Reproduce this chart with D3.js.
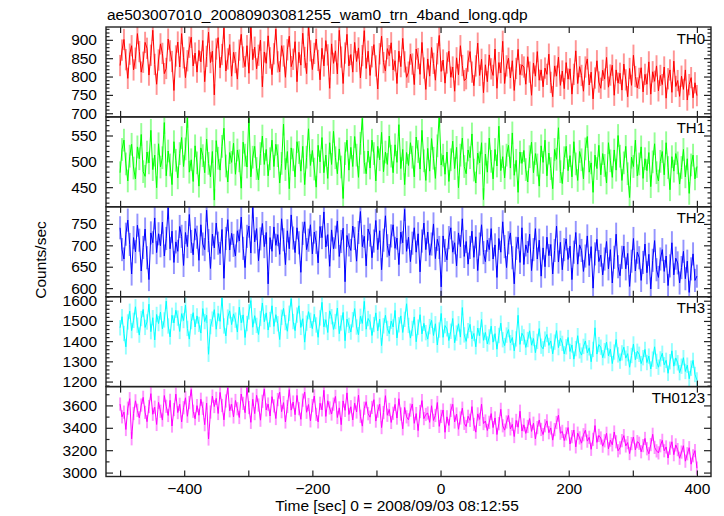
<!DOCTYPE html>
<html><head><meta charset="utf-8">
<script src="https://cdn.jsdelivr.net/npm/d3@7"></script>
<style>html,body{margin:0;padding:0;background:#fff;}svg{display:block;font-family:"Liberation Sans",Arial,Helvetica,sans-serif;}</style>
</head><body><svg id="chart" width="724" height="516"></svg>
<script>
const title = "ae503007010_20080903081255_wam0_trn_4band_long.qdp";
const xLabel = "Time [sec] 0 = 2008/09/03 08:12:55";
const yLabel = "Counts/sec";
const bandNames = ["TH0", "TH1", "TH2", "TH3", "TH0123"];
const bandColors = ["#ff0000", "#00ff00", "#0000ff", "#00ffff", "#ff00ff"];
const xDomain = [-522, 422];
const yDomains = [[690, 935], [412, 586], [580, 790], [1175, 1620], [2965, 3768]];
const yMajorTicks = [[700, 750, 800, 850, 900], [450, 500, 550], [600, 650, 700, 750], [1200, 1300, 1400, 1500, 1600], [3000, 3200, 3400, 3600]];
const yMinorSteps = [10, 10, 10, 20, 100];
const xTicks = [-500, -400, -300, -200, -100, 0, 100, 200, 300, 400];
const xTickLabels = [-400, -200, 0, 200, 400];
const errorBars = [29, 22, 27, 38, 59];
const timeStart = -500, timeStep = 3;

const th0 = [
830,872,901,846,795,861,884,818,850,917,
868,812,839,893,877,804,858,926,833,779,
845,889,863,808,822,902,870,841,762,856,
894,826,917,851,797,843,880,907,829,864,
812,871,840,898,786,855,921,838,869,750,
875,906,824,860,932,815,848,887,801,866,
838,793,872,915,853,827,884,809,940,846,
880,821,858,899,772,867,836,911,851,805,
862,929,840,813,884,856,798,873,910,827,
847,895,786,866,831,918,852,808,940,870,
819,863,902,844,791,877,829,898,859,768,
889,836,870,807,926,853,781,864,915,829,
860,812,893,841,878,796,857,925,822,869,
803,854,887,829,766,862,910,838,815,876,
857,892,818,843,781,869,827,904,840,798,
812,861,834,778,875,849,806,893,823,765,
848,801,879,836,790,862,912,814,845,782,
837,869,798,826,760,851,805,884,830,789,
794,842,868,812,775,829,891,803,847,756,
832,786,859,821,803,875,768,838,810,896,
781,829,850,796,843,762,822,874,805,832,
826,779,854,812,749,837,801,868,790,818,
772,823,806,861,784,745,829,801,853,776,
815,767,838,793,821,752,806,870,781,827,
803,760,826,848,777,812,739,796,843,785,
768,817,793,852,771,804,831,749,818,782,
809,763,834,791,745,822,776,858,800,769,
795,824,758,806,779,840,752,813,787,829,
761,803,778,826,741,794,818,757,842,773,
789,746,801,765,818,736,778,797,742,783,
748];
const th1 = [
478,523,541,495,462,510,533,487,466,528,
505,552,480,471,518,497,560,484,512,449,
534,489,507,575,472,520,493,455,538,502,
468,515,546,490,524,587,479,503,461,530,
497,452,526,511,478,543,496,470,519,425,
540,506,483,529,564,491,460,517,498,535,
475,522,501,448,537,512,489,590,470,508,
529,486,464,515,549,494,523,472,505,541,
490,533,511,458,496,572,484,519,447,526,
503,470,538,517,481,529,455,508,563,492,
521,485,450,531,499,546,478,512,467,536,
494,558,507,476,524,489,428,515,541,483,
527,490,548,512,469,535,583,498,476,520,
487,541,515,462,529,503,556,480,518,494,
549,510,478,532,498,571,486,523,455,517,
492,536,508,470,547,519,485,560,501,463,
525,481,544,506,467,530,589,493,512,475,
518,461,503,539,486,527,449,512,545,490,
476,522,507,553,483,458,516,497,536,426,
514,479,545,500,466,523,491,568,482,509,
468,512,531,487,555,473,502,440,518,496,
521,484,460,509,537,478,515,493,452,530,
498,541,472,516,486,447,523,504,565,480,
457,507,529,482,511,470,538,495,463,519,
503,466,524,548,479,497,440,512,486,531,
474,515,492,458,536,501,469,522,483,550,
510,463,497,529,476,430,508,490,541,472,
495,528,467,505,482,517,451,499,534,478,
462,500,519,474,536,488,445,509,481,515,
497,456,488,523,470,505,438,493,512,466,
490];
const th2 = [
741,690,668,726,759,702,633,718,685,747,
712,640,695,738,671,620,729,706,764,683,
727,699,754,675,716,788,692,733,660,708,
686,744,721,653,730,697,772,709,678,739,
719,665,748,703,690,782,711,646,726,694,
752,705,681,737,623,716,760,689,728,700,
675,734,710,766,693,648,721,745,682,790,
708,739,664,715,751,697,730,610,718,686,
743,700,725,679,762,713,655,734,692,771,
717,683,741,706,637,728,755,690,712,748,
680,731,707,659,744,718,778,696,725,651,
736,692,719,757,674,709,740,615,723,701,
688,745,716,663,730,779,697,721,652,738,
724,671,710,758,690,734,643,712,769,699,
676,722,748,693,717,655,731,706,784,686,
719,662,705,741,684,727,638,710,752,690,
731,677,703,750,669,714,695,603,722,688,
666,718,741,684,706,652,729,697,762,674,
709,656,695,733,672,720,641,703,748,683,
662,712,690,739,668,701,625,716,684,755,
697,648,706,729,671,610,693,719,660,741,
655,701,683,726,641,690,739,668,712,628,
694,650,719,676,702,633,688,745,661,707,
643,690,715,667,698,620,684,730,656,701,
688,639,675,722,653,697,600,680,714,662,
677,631,668,709,645,690,612,672,726,650,
629,672,698,645,681,604,663,716,640,684,
671,618,660,703,636,679,598,665,711,643,
625,668,690,639,675,606,652,706,631,670,
659,612,648,686,622,663,590,645,680,618,
628];
const th3 = [
1466,1521,1438,1372,1495,1548,1452,1503,1570,1479,
1430,1512,1557,1468,1495,1583,1447,1516,1406,1532,
1487,1544,1461,1505,1598,1475,1421,1528,1490,1553,
1514,1448,1536,1502,1579,1463,1410,1497,1541,1470,
1525,1483,1440,1561,1497,1528,1335,1472,1509,1556,
1459,1537,1498,1613,1475,1426,1519,1550,1482,1535,
1504,1445,1568,1491,1530,1418,1487,1545,1601,1469,
1526,1478,1433,1512,1589,1496,1540,1455,1507,1575,
1473,1531,1486,1408,1518,1562,1492,1449,1538,1610,
1497,1452,1529,1575,1468,1511,1395,1489,1546,1503,
1462,1533,1480,1419,1515,1592,1471,1506,1443,1550,
1521,1458,1497,1564,1437,1490,1542,1402,1509,1478,
1445,1506,1561,1470,1432,1523,1488,1597,1459,1512,
1495,1428,1482,1540,1451,1509,1378,1476,1528,1463,
1437,1499,1470,1552,1416,1481,1525,1443,1508,1585,
1478,1415,1463,1520,1397,1469,1531,1436,1488,1442,
1410,1472,1503,1428,1486,1381,1455,1537,1419,1477,
1461,1403,1449,1512,1392,1440,1486,1420,1566,1431,
1399,1452,1483,1411,1438,1372,1465,1427,1507,1404,
1443,1386,1421,1474,1395,1437,1360,1428,1489,1407,
1378,1430,1457,1392,1418,1352,1411,1528,1384,1439,
1421,1369,1408,1451,1380,1413,1343,1399,1462,1375,
1362,1410,1433,1379,1401,1337,1395,1452,1368,1414,
1389,1337,1372,1418,1349,1381,1311,1363,1427,1352,
1331,1374,1401,1342,1367,1298,1359,1466,1336,1383,
1370,1318,1353,1395,1327,1360,1289,1346,1408,1332,
1301,1342,1370,1316,1338,1271,1329,1386,1308,1350,
1335,1289,1318,1359,1294,1326,1262,1311,1372,1300,
1271,1312,1340,1283,1305,1241,1298,1352,1276,1317,
1293,1244,1276,1318,1250,1281,1214,1266,1305,1235,
1208];
const th0123 = [
3612,3498,3540,3385,3575,3660,3302,3528,3641,3556,
3489,3603,3672,3538,3455,3590,3705,3521,3584,3430,
3627,3548,3469,3688,3592,3510,3645,3416,3563,3701,
3536,3610,3452,3579,3668,3503,3625,3742,3548,3481,
3598,3512,3655,3574,3428,3620,3300,3541,3683,3590,
3663,3528,3716,3599,3471,3640,3758,3552,3610,3497,
3644,3570,3492,3702,3618,3535,3760,3581,3449,3655,
3527,3690,3603,3468,3637,3745,3560,3612,3505,3678,
3596,3483,3652,3718,3544,3625,3452,3590,3741,3558,
3630,3517,3689,3571,3476,3647,3720,3539,3608,3462,
3598,3684,3520,3453,3619,3560,3735,3502,3641,3577,
3523,3611,3680,3492,3578,3428,3640,3556,3712,3519,
3588,3470,3620,3541,3692,3503,3415,3575,3633,3526,
3495,3582,3651,3460,3549,3611,3402,3536,3687,3512,
3564,3448,3530,3609,3487,3660,3523,3391,3582,3498,
3471,3558,3612,3440,3527,3375,3545,3643,3482,3519,
3532,3449,3597,3466,3510,3626,3413,3502,3559,3360,
3498,3421,3556,3610,3452,3523,3387,3488,3575,3440,
3412,3503,3467,3589,3430,3361,3524,3475,3612,3438,
3461,3376,3449,3527,3402,3488,3340,3437,3565,3418,
3379,3452,3510,3390,3431,3322,3466,3405,3548,3371,
3426,3350,3412,3483,3368,3441,3301,3402,3470,3385,
3340,3418,3462,3356,3399,3290,3384,3447,3513,3352,
3368,3286,3345,3402,3255,3321,3380,3230,3352,3310,
3263,3338,3379,3281,3315,3208,3297,3420,3270,3332,
3309,3236,3284,3351,3212,3290,3248,3362,3275,3195,
3221,3285,3330,3238,3268,3170,3259,3318,3202,3276,
3262,3186,3241,3305,3213,3168,3250,3342,3225,3194,
3176,3240,3288,3195,3229,3130,3218,3275,3160,3247,
3205,3128,3183,3240,3102,3168,3222,3075,3150,3196,
3040];
const seriesValues = [th0, th1, th2, th3, th0123];

(function () {
const svg = d3.select("#chart");
const plotLeft = 106, plotRight = 711, plotTop = 27, plotBottom = 476.5;
const panelH = (plotBottom - plotTop) / bandNames.length;
const x = d3.scaleLinear().domain(xDomain).range([plotLeft, plotRight]);
const fontSize = "15.5px";
const barW = x(timeStep) - x(0);

svg.append("text").attr("x", 107).attr("y", 20).attr("font-size", fontSize).attr("fill", "#000").text(title);
svg.append("text").attr("transform", "translate(46,260) rotate(-90)").attr("text-anchor", "middle")
  .attr("font-size", fontSize).attr("fill", "#000").text(yLabel);
svg.append("text").attr("x", 397).attr("y", 511).attr("text-anchor", "middle")
  .attr("font-size", fontSize).attr("fill", "#000").text(xLabel);

const defs = svg.append("defs");

bandNames.forEach((name, k) => {
  const y0 = plotTop + k * panelH, y1 = y0 + panelH;
  const y = d3.scaleLinear().domain(yDomains[k]).range([y1, y0]);
  const g = svg.append("g");
  defs.append("clipPath").attr("id", "clip" + k).append("rect")
    .attr("x", plotLeft).attr("y", y0).attr("width", plotRight - plotLeft).attr("height", panelH);
  const data = seriesValues[k].map((v, i) => ({t: timeStart + i * timeStep, v}));
  const plot = g.append("g").attr("clip-path", `url(#clip${k})`);
  const err = errorBars[k];
  plot.append("g").selectAll("rect").data(data).join("rect")
    .attr("x", d => x(d.t) - barW / 2).attr("width", barW)
    .attr("y", d => y(d.v + err)).attr("height", d => y(d.v - err) - y(d.v + err))
    .attr("fill", bandColors[k]).attr("fill-opacity", 0.42);
  plot.append("path").datum(data)
    .attr("d", d3.line().x(d => x(d.t)).y(d => y(d.v)))
    .attr("fill", "none").attr("stroke", bandColors[k]).attr("stroke-width", 1);

  const majors = yMajorTicks[k];
  const step = yMinorSteps[k];
  const minors = d3.range(Math.ceil(yDomains[k][0] / step) * step, yDomains[k][1], step)
    .filter(v => !majors.includes(v));
  const axL = d3.axisLeft(y).tickValues(majors).tickSize(-7).tickPadding(9)
    .tickFormat(d3.format("d"));
  const gl = g.append("g").attr("transform", `translate(${plotLeft},0)`).call(axL);
  gl.select(".domain").remove();
  gl.selectAll("text").attr("font-size", fontSize).attr("font-family", null).attr("fill", "#000")
    .attr("x", -9).attr("text-anchor", "end");
  g.append("g").attr("transform", `translate(${plotLeft},0)`)
    .call(d3.axisLeft(y).tickValues(minors).tickSize(-3.5).tickFormat(""))
    .select(".domain").remove();
  g.append("g").attr("transform", `translate(${plotRight},0)`)
    .call(d3.axisRight(y).tickValues(majors).tickSize(-7).tickFormat(""))
    .select(".domain").remove();
  g.append("g").attr("transform", `translate(${plotRight},0)`)
    .call(d3.axisRight(y).tickValues(minors).tickSize(-3.5).tickFormat(""))
    .select(".domain").remove();
  g.append("g").attr("transform", `translate(0,${y0})`)
    .call(d3.axisTop(x).tickValues(xTicks).tickSize(-6).tickFormat(""))
    .select(".domain").remove();
  const gb = g.append("g").attr("transform", `translate(0,${y1})`)
    .call(d3.axisBottom(x).tickValues(xTicks).tickSize(-6).tickFormat(""));
  gb.select(".domain").remove();
  g.selectAll(".tick line").attr("stroke", "#222").attr("stroke-width", 1.2);

  g.append("rect").attr("x", plotLeft).attr("y", y0).attr("width", plotRight - plotLeft).attr("height", panelH)
    .attr("fill", "none").attr("stroke", "#222").attr("stroke-width", 1.4);
  g.append("text").attr("x", 705).attr("y", y0 + 16.5).attr("text-anchor", "end")
    .attr("font-size", "15px").attr("fill", "#000").text(name);

  if (k === bandNames.length - 1) {
    const axB = d3.axisBottom(x).tickValues(xTickLabels).tickSize(0).tickPadding(5)
      .tickFormat(d => d < 0 ? "\u2212" + Math.abs(d) : String(d));
    const gx = g.append("g").attr("transform", `translate(0,${y1})`).call(axB);
    gx.select(".domain").remove();
    gx.selectAll("text").attr("font-size", fontSize).attr("font-family", null).attr("fill", "#000")
      .attr("y", 17).attr("dy", null);
  }
});
})();
</script></body></html>
